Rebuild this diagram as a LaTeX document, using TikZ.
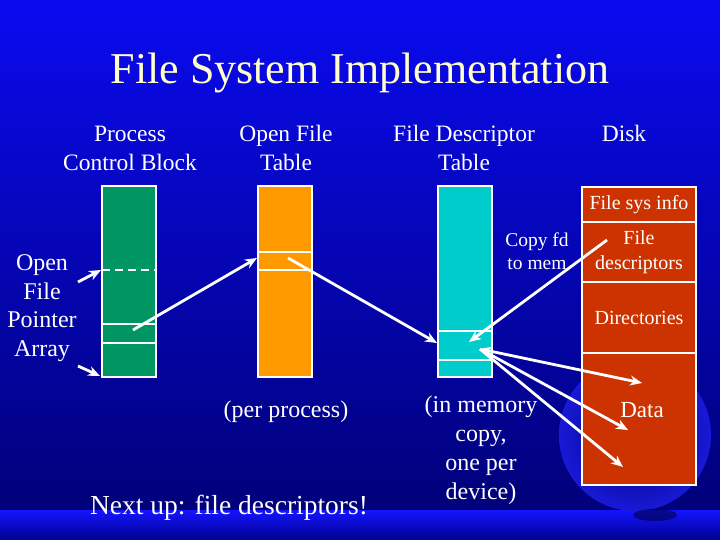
\documentclass[tikz,border=0pt]{standalone}
\usepackage{fontspec}
\setmainfont{Liberation Serif}
\usetikzlibrary{positioning,arrows.meta,calc,backgrounds}
\definecolor{slidelight}{RGB}{10,10,240}
\definecolor{slidedark}{RGB}{0,0,115}
\definecolor{bandlight}{RGB}{20,20,255}
\definecolor{globeedge}{RGB}{25,25,215}
\definecolor{titlecol}{RGB}{255,255,204}
\definecolor{pcbgreen}{RGB}{0,150,100}
\definecolor{oftorange}{RGB}{255,153,0}
\definecolor{fdtcyan}{RGB}{0,204,204}
\definecolor{diskred}{RGB}{204,51,0}

\begin{document}
\begin{tikzpicture}[
    x=1pt,y=-1pt,
    col/.style={draw=white,line width=1.5pt,minimum width=54pt,minimum height=191pt,
                inner sep=0pt,outer sep=0pt,anchor=north west},
    diskpart/.style={draw=white,line width=1.5pt,fill=diskred,minimum width=114pt,
                inner sep=0pt,outer sep=0pt,text=white,align=center,
                font=\fontsize{20}{25}\selectfont},
    sepline/.style={white,line width=1.5pt},
    hdr/.style={text=white,align=center,font=\fontsize{23.5}{29}\selectfont},
    arr/.style={-{Stealth[length=12pt,width=10pt]},white,line width=2.8pt},
    darr/.style={{Stealth[length=12pt,width=10pt]}-{Stealth[length=12pt,width=10pt]},white,line width=2.8pt}
  ]
  % slide background
  \shade[shading angle=70,top color=slidelight,bottom color=slidedark] (0,0) rectangle (720,540);
  \shade[top color=bandlight,bottom color=slidedark!80!blue] (0,510) rectangle (720,540);
  \shade[inner color=slidedark,outer color=globeedge] (635,435) circle (76pt);
  \fill[slidedark!60!black,opacity=0.6] (655,515) ellipse (22pt and 6pt);
  \useasboundingbox (0,0) rectangle (720,540);

  % titles
  \node[text=titlecol,font=\fontsize{44}{50}\selectfont] (title) at (360,73) {File System Implementation};
  \node[hdr] (hpcb) at (130,148) {Process\\Control Block};
  \node[hdr] (hoft) at (286,148) {Open File\\Table};
  \node[hdr] (hfdt) at (464,148) {File Descriptor\\Table};
  \node[hdr] (hdisk) at (624,133) {Disk};

  % process control block
  \node[col,fill=pcbgreen] (pcb) at (102,186) {};
  \draw[sepline,dash pattern=on 8pt off 5pt] (102,270) -- (156,270);
  \draw[sepline] (102,324) -- (156,324);
  \draw[sepline] (102,343) -- (156,343);

  % open file table
  \node[col,fill=oftorange] (oft) at (258,186) {};
  \draw[sepline] (258,252) -- (312,252);
  \draw[sepline] (258,270) -- (312,270);

  % file descriptor table
  \node[col,fill=fdtcyan] (fdt) at (438,186) {};
  \draw[sepline] (438,331) -- (492,331);
  \draw[sepline] (438,360) -- (492,360);

  % disk
  \node[diskpart,minimum height=35pt,anchor=north west] (dinfo) at (582,187) {File sys info};
  \node[diskpart,minimum height=60pt,below=0pt of dinfo] (dfd) {File\\descriptors};
  \node[diskpart,minimum height=71pt,below=0pt of dfd] (ddir) {Directories};
  \node[diskpart,minimum height=132pt,below=0pt of ddir] (ddata) {};
  \node[text=white,font=\fontsize{23}{28}\selectfont] (datalbl) at (642,410) {Data};

  % labels
  \node[hdr,font=\fontsize{24}{28.5}\selectfont] (ofpa) at (42,308) {Open\\File\\Pointer\\Array};
  \node[text=white,align=center,font=\fontsize{19.5}{23}\selectfont] (copyfd) at (537,251) {Copy fd\\to mem};
  \node[hdr,font=\fontsize{24}{29}\selectfont] (perproc) at (286,412) {(per process)};
  \node[hdr,font=\fontsize{24}{29}\selectfont] (inmem) at (481,450) {(in memory\\copy,\\one per\\device)};
  \node[text=white,font=\fontsize{27.5}{32}\selectfont] (nextup) at (229,508) {Next up: file descriptors!};

  % arrow end points
  \coordinate (ofpatop) at (78,282);
  \coordinate (ofpabot) at (78,366);
  \coordinate (pcbdash) at (101,270);
  \coordinate (pcbcorner) at (100,376);
  \coordinate (pcbent) at (133,330);
  \coordinate (oftin) at (257,258);
  \coordinate (oftent) at (288,258);
  \coordinate (fdtin) at (437,343);
  \coordinate (fdtent) at (469,342);
  \coordinate (fdtsrc) at (480,349);
  \coordinate (dfdsrc) at (607,240);
  \coordinate (data1) at (642,383);
  \coordinate (data2) at (628,430);
  \coordinate (data3) at (623,467);

  % connectors
  \draw[arr] (ofpatop) -- (pcbdash);
  \draw[arr] (ofpabot) -- (pcbcorner);
  \draw[arr] (pcbent) -- (oftin);
  \draw[arr] (oftent) -- (fdtin);
  \draw[arr] (dfdsrc) -- (fdtent);
  \draw[darr] (fdtsrc) -- (data1);
  \draw[arr] (fdtsrc) -- (data2);
  \draw[arr] (fdtsrc) -- (data3);
\end{tikzpicture}
\end{document}
